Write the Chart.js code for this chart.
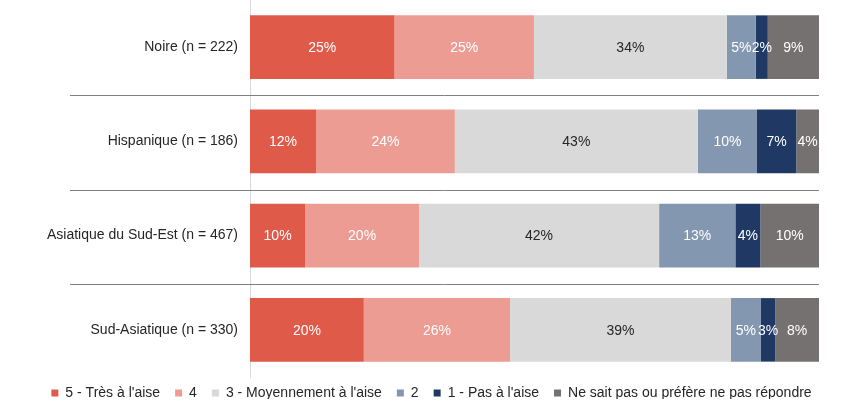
<!DOCTYPE html>
<html>
<head>
<meta charset="utf-8">
<script src="https://cdn.jsdelivr.net/npm/chart.js@4/dist/chart.umd.min.js"></script>
<style>
html,body{margin:0;padding:0;background:#fff;}
#wrap{width:864px;height:405px;}
</style>
</head>
<body>
<div id="wrap"><canvas id="c" width="864" height="405"></canvas></div>
<script>
const categories = ["Noire (n = 222)", "Hispanique (n = 186)", "Asiatique du Sud-Est (n = 467)", "Sud-Asiatique (n = 330)"];
const seriesNames = ["5 - Très à l'aise", "4", "3 - Moyennement à l'aise", "2", "1 - Pas à l'aise", "Ne sait pas ou préfère ne pas répondre"];
// Segment values (% of respondents)
const s5 = [25.4, 11.6, 9.7, 20.0];
const s4 = [24.5, 24.4, 20.0, 25.7];
const s3 = [33.9, 42.7, 42.2, 38.8];
const s2 = [5.1, 10.4, 13.4, 5.3];
const s1 = [2.1, 6.9, 4.4, 2.5];
const sNSP = [9.0, 4.0, 10.3, 7.7];
// Printed labels
const l5 = ["25%", "12%", "10%", "20%"];
const l4 = ["25%", "24%", "20%", "26%"];
const l3 = ["34%", "43%", "42%", "39%"];
const l2 = ["5%", "10%", "13%", "5%"];
const l1 = ["2%", "7%", "4%", "3%"];
const lNSP = ["9%", "4%", "10%", "8%"];

const colors = ["#E05A4A", "#EC9C93", "#D9D9D9", "#8497B0", "#1F3864", "#767171"];
const labelColors = ["#ffffff", "#ffffff", "#262626", "#ffffff", "#ffffff", "#ffffff"];
const values = [s5, s4, s3, s2, s1, sNSP];
const labels = [l5, l4, l3, l2, l1, lNSP];

const FONT = "'Liberation Sans', Arial, sans-serif";

const segLabels = {
  id: 'segLabels',
  afterDatasetsDraw(chart) {
    const ctx = chart.ctx;
    ctx.save();
    ctx.font = "14px " + FONT;
    ctx.textAlign = 'center';
    ctx.textBaseline = 'middle';
    chart.data.datasets.forEach((ds, di) => {
      const meta = chart.getDatasetMeta(di);
      meta.data.forEach((el, i) => {
        const cx = (el.x + el.base) / 2;
        ctx.fillStyle = labelColors[di];
        ctx.fillText(labels[di][i], cx, el.y + 1);
      });
    });
    ctx.restore();
  }
};

const separators = {
  id: 'separators',
  afterDraw(chart) {
    const y = chart.scales.y;
    const ctx = chart.ctx;
    ctx.save();
    ctx.strokeStyle = '#808080';
    ctx.lineWidth = 1;
    for (let i = 0; i < categories.length - 1; i++) {
      const py = Math.round((y.getPixelForValue(i) + y.getPixelForValue(i + 1)) / 2) + 1.5;
      ctx.beginPath();
      ctx.moveTo(70, py);
      ctx.lineTo(chart.chartArea.right, py);
      ctx.stroke();
    }
    ctx.restore();
  }
};

const legendTweak = {
  id: 'legendTweak',
  beforeLayout(chart) {
    const lg = chart.legend;
    if (lg && !lg.__patched) {
      const f = lg.fit;
      lg.fit = function () { f.apply(this, arguments); this.height = 28; };
      lg.__patched = true;
    }
  },
  afterLayout(chart) {
    const lg = chart.legend;
    if (lg) {
      lg.top -= 6; lg.bottom -= 6;
      lg.left += 22; lg.right += 22;
    }
  }
};

new Chart(document.getElementById('c'), {
  type: 'bar',
  data: {
    labels: categories,
    datasets: seriesNames.map((n, i) => ({
      label: n,
      data: values[i],
      backgroundColor: colors[i],
      borderWidth: 0,
      barPercentage: 0.674,
      categoryPercentage: 1.0
    }))
  },
  options: {
    indexAxis: 'y',
    responsive: false,
    animation: false,
    devicePixelRatio: 1,
    layout: { padding: { top: 0, right: 45, bottom: 0, left: 0 } },
    plugins: {
      legend: {
        position: 'bottom',
        labels: {
          boxWidth: 7,
          boxHeight: 7,
          padding: 15,
          color: '#262626',
          font: { family: FONT, size: 14 }
        }
      },
      tooltip: { enabled: false }
    },
    scales: {
      x: {
        stacked: true,
        min: 0,
        max: 100,
        display: false
      },
      y: {
        stacked: true,
        grid: { display: false, drawTicks: false },
        border: { display: true, color: '#D9D9D9', width: 1 },
        ticks: {
          padding: 12,
          color: '#262626',
          font: { family: FONT, size: 14 }
        },
        afterFit(scale) { scale.width = 250; scale.paddingTop = 0; scale.paddingBottom = 0; }
      }
    }
  },
  plugins: [segLabels, separators, legendTweak]
});
</script>
</body>
</html>
